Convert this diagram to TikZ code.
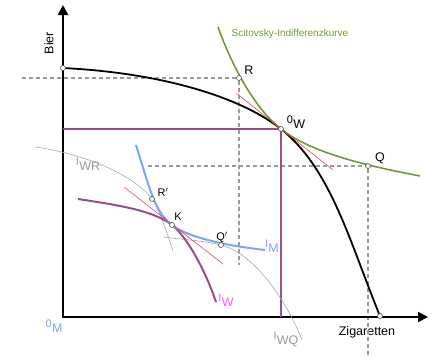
\documentclass[tikz,border=0pt]{standalone}
\usepackage{fontspec}
\setmainfont{Liberation Sans}
\usetikzlibrary{arrows.meta}
\pgfdeclarelayer{foreground}
\pgfsetlayers{main,foreground}
\definecolor{lila}{RGB}{158,76,134}
\definecolor{gruen}{RGB}{112,154,52}
\definecolor{hblau}{RGB}{122,165,255}
\definecolor{pink}{RGB}{255,90,255}
\definecolor{tangred}{RGB}{225,45,70}
\newcommand{\lowlab}[2]{\raisebox{5pt}{\fontsize{11}{12}\selectfont #1}\kern0.3pt#2}

\begin{document}
\begin{tikzpicture}[x=1pt,y=-1pt]
        \tikzset{pt/.style = {circle,draw=black!70,fill=white,inner sep=0pt,minimum size=5pt,line width=0.6pt}}
        \tikzset{lbl/.style = {font=\fontsize{12.5}{14}\selectfont,inner sep=0pt}}
        \tikzset{axis/.style = {line width=2pt,{Triangle[length=10pt,width=10pt]}-{Triangle[length=10pt,width=10pt]}}}
        \tikzset{guide/.style = {color=black!40,line width=1.4pt,dash pattern=on 4pt off 3pt}}
        \tikzset{ppf/.style = {line width=1.8pt,color=black}}
        \tikzset{tangent/.style = {line width=0.5pt,color=tangred}}
        \tikzset{indiff/.style = {line width=0.6pt,color=black!35}}
        \useasboundingbox (0,0) rectangle (440,362);

        % points
        \begin{pgfonlayer}{foreground}
        \node[pt] (top) at (63,68) {}; \node[pt] (bot) at (380,316) {};
        \node[pt] (W) at (281,129) {}; \node[pt] (R) at (239,78) {}; \node[pt] (Q) at (368,166) {};
        \node[pt] (Rp) at (152,199) {}; \node[pt] (K) at (172,225) {}; \node[pt] (Qp) at (221,245) {};
        \end{pgfonlayer}

        % axes
        \coordinate (O) at (63,317); \coordinate (ytip) at (63,5); \coordinate (xtip) at (428,317);
        \node[lbl,rotate=90] (bier) at (49,43) {Bier};
        \node[lbl] (zig) at (367,332) {Zigaretten};
        \node[lbl,text=hblau] (OM) at (54,326) {\lowlab{0}{M}};

        % guides
        \coordinate (Rl) at (22,78); \coordinate (Rd) at (239,265);
        \coordinate (Ql) at (148,166); \coordinate (Qd) at (368,355);
        \draw[guide] (Rl) -- (R) -- (Rd);
        \draw[guide] (Ql) -- (Q) -- (Qd);

        \draw[axis] (ytip) -- (O) -- (xtip);

        % production possibility curve and world point
        \coordinate (Wy) at (63,129); \coordinate (Wx) at (281,317);
        \draw[lila,line width=1.8pt] (Wy) -- (W.center) -- (Wx);
        \draw[ppf] (top.center) .. controls (163,73) and (241,97.4) .. (W.center)
                   .. controls (331,168.5) and (350,243) .. (bot.center);

        % Scitovsky curve
        \coordinate (s0) at (218,27); \coordinate (s1) at (420,176);
        \draw[gruen,line width=1.6pt] (s0) .. controls (231.6,64.6) and (253.5,107.3) .. (W.center)
                   .. controls (312.4,153.8) and (371,166.5) .. (s1);
        \node[font=\fontsize{10}{12}\selectfont,text=gruen,inner sep=0pt] (scit) at (290,34) {Scitovsky-Indifferenzkurve};

        % indifference curves of countries
        \coordinate (wr0) at (36,147); \coordinate (wr1) at (173,251);
        \coordinate (wq0) at (164,237); \coordinate (wq1) at (302,340);
        \coordinate (iw0) at (78,199); \coordinate (iw1) at (216,302);
        \coordinate (im0) at (136,145); \coordinate (im1) at (265,250);
        \draw[indiff] (wr0) .. controls (95.3,156.1) and (137,179) .. (Rp.center)
                   .. controls (159.2,208.6) and (168.4,236.8) .. (wr1);
        \draw[indiff] (wq0) .. controls (184,240) and (201,240.2) .. (Qp.center)
                   .. controls (255,253.4) and (287.6,302.8) .. (wq1);
        \draw[lila,line width=2pt] (iw0) .. controls (112.6,204.4) and (152.3,209.6) .. (K.center)
                   .. controls (187.8,237.3) and (206.5,273.5) .. (iw1);
        \draw[hblau,line width=2pt] (im0) .. controls (151,192.5) and (154.6,211.5) .. (K.center)
                   .. controls (187.8,237.3) and (225.4,245.6) .. (im1);

        % price lines
        \coordinate (t1) at (236,93); \coordinate (t2) at (333,170);
        \coordinate (t3) at (124,187); \coordinate (t4) at (223,264);
        \draw[tangent] (t1) -- (t2);
        \draw[tangent] (t3) -- (t4);

        % labels
        \node[lbl] (lR) at (249,70) {R};
        \node[lbl] (lQ) at (380,158) {Q};
        \node[lbl] (lW) at (296,122) {\lowlab{0}{W}};
        \node[lbl,font=\fontsize{11}{13}\selectfont] (lRp) at (163,192) {R$'$};
        \node[lbl,font=\fontsize{11}{13}\selectfont] (lK) at (178,217) {K};
        \node[lbl,font=\fontsize{11}{13}\selectfont] (lQp) at (222,237) {Q$'$};
        \node[lbl,text=black!40] (lWR) at (88,164) {\lowlab{I}{WR}};
        \node[lbl,text=black!40] (lWQ) at (286,339) {\lowlab{I}{WQ}};
        \node[lbl,text=hblau] (lM) at (272,246) {\lowlab{I}{M}};
        \node[lbl,text=pink] (lIW) at (226,300) {\lowlab{I}{W}};
    \end{tikzpicture}
\end{document}
